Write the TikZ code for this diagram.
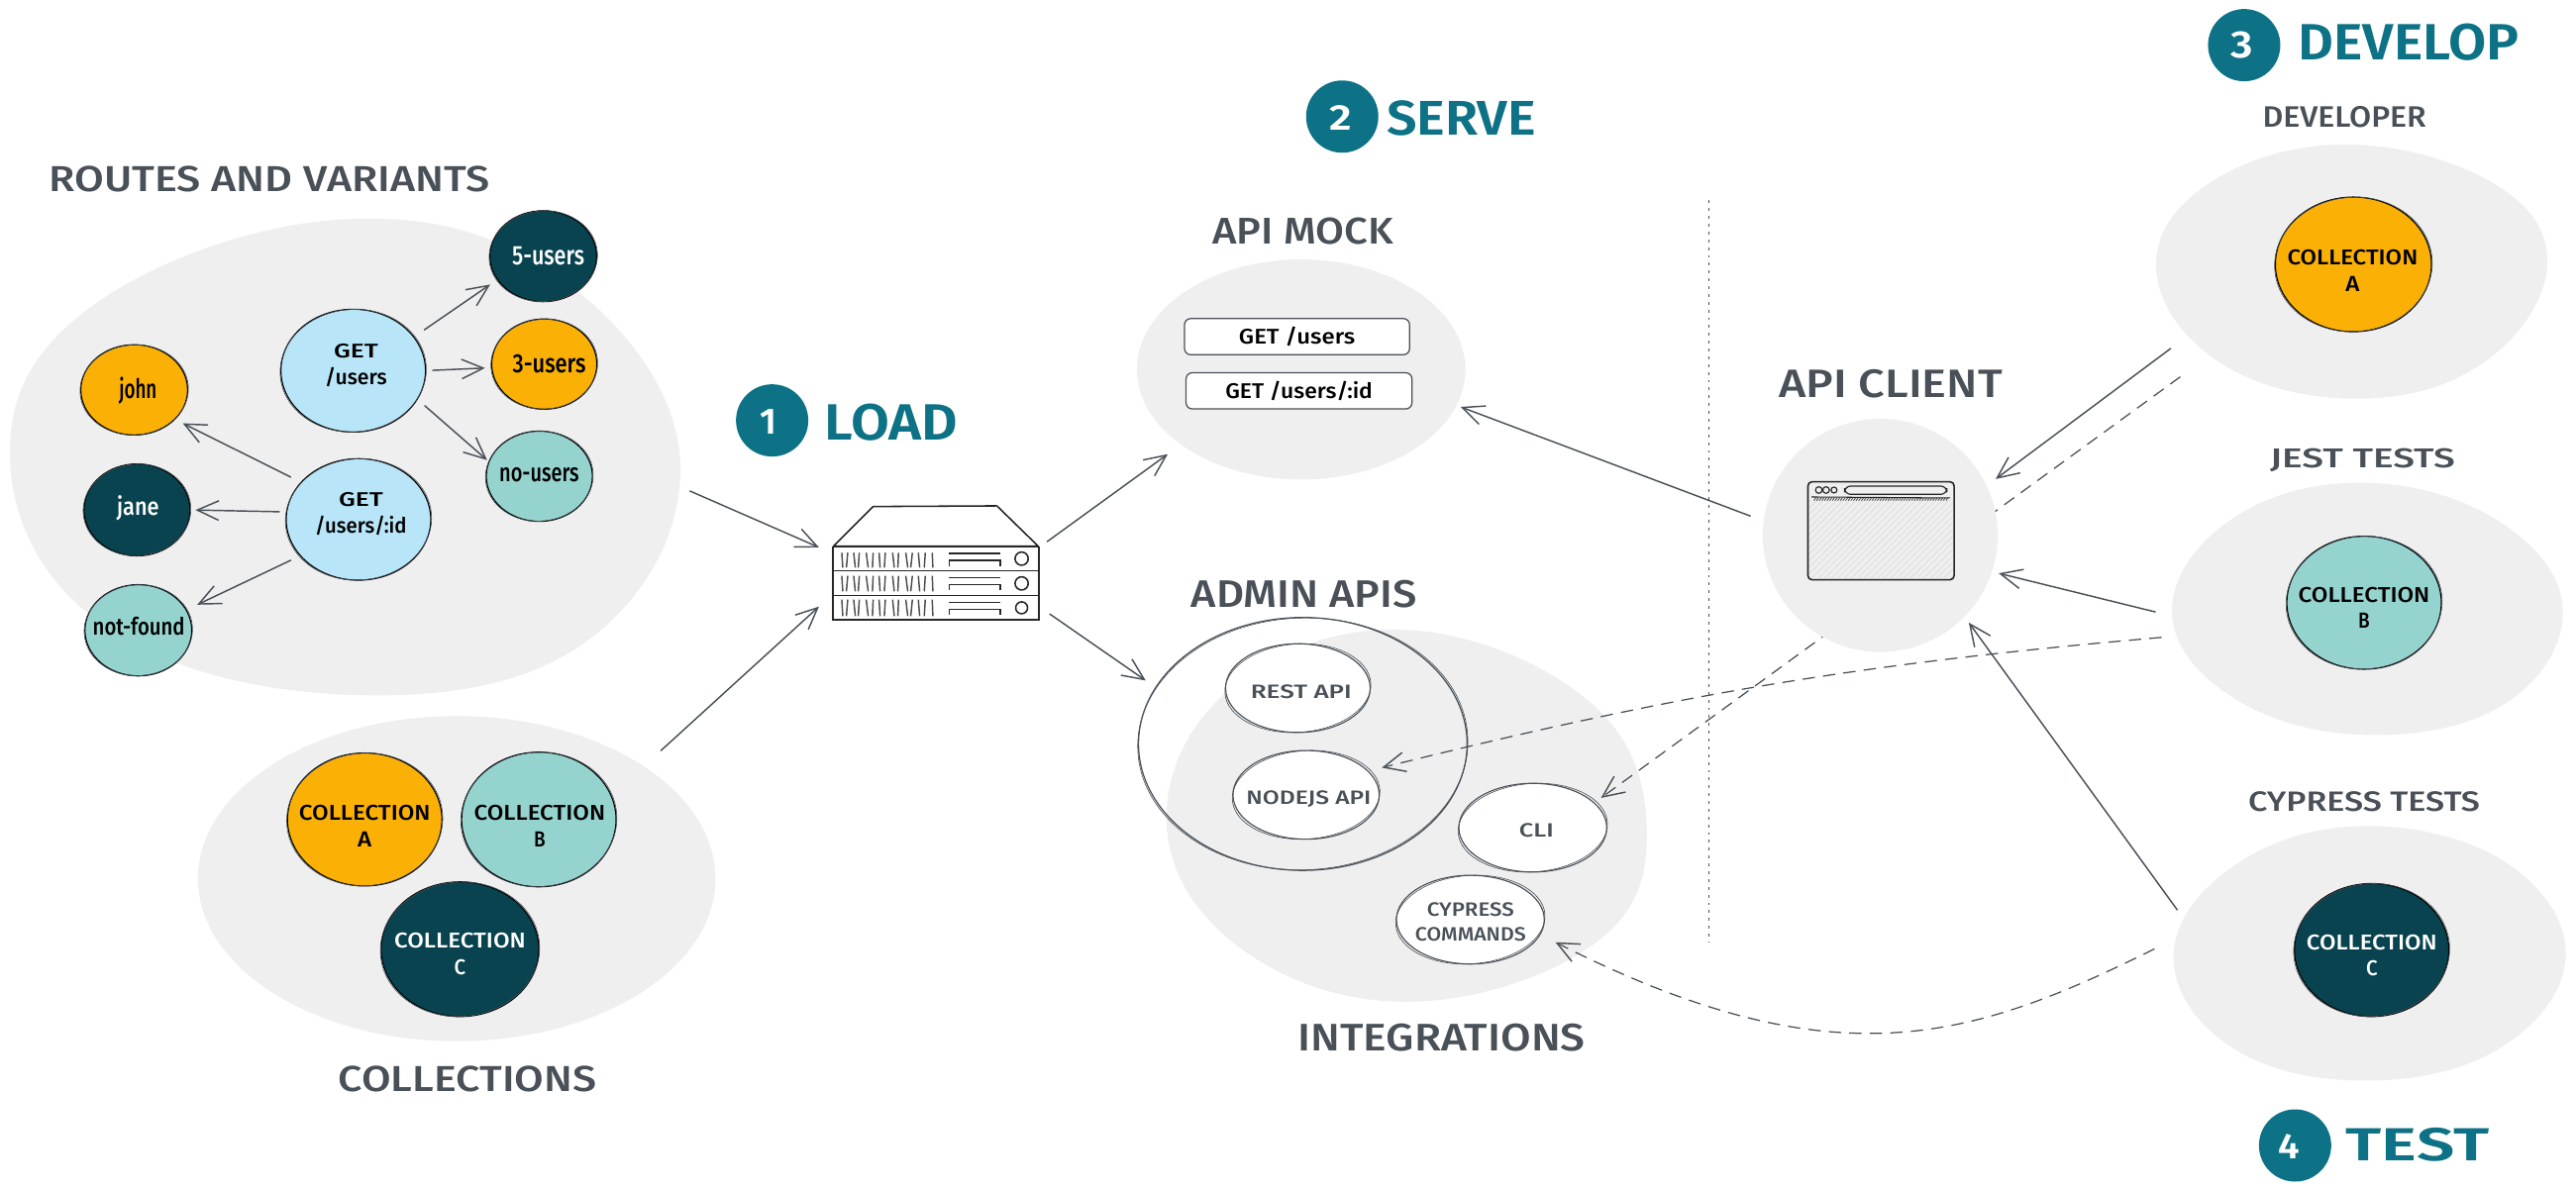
\documentclass[tikz,border=0pt]{standalone}
\usepackage{graphicx}
\usepackage{fontspec}
\setmainfont{Fira Sans Medium}
\newfontfamily\boldf{Fira Sans SemiBold}
\usetikzlibrary{arrows.meta,shapes.geometric}
\definecolor{cblob}{HTML}{EFEFEF}
\definecolor{corange}{HTML}{FBB006}
\definecolor{cmint}{HTML}{95D3CF}
\definecolor{cdeep}{HTML}{08434F}
\definecolor{csky}{HTML}{B8E6F8}
\definecolor{cteal}{HTML}{0D7285}
\definecolor{cgrey}{HTML}{495057}
\newlength\uu \setlength\uu{.8pt}
\newcommand\fw[2]{\resizebox{#1\uu}{!}{#2}}
\newcommand\fwh[3]{\resizebox{#1\uu}{#2\uu}{#3}}
\tikzset{
  x=.8pt,y=-.8pt,
  blobnode/.style={ellipse,fill=cblob,draw=none,inner sep=0pt,outer sep=0pt},
  blobshape/.style={ellipse,draw=none,inner sep=0pt,outer sep=0pt},
  ball/.style={ellipse,draw=black,line width=.55pt,inner sep=0pt,outer sep=0pt},
  whiteball/.style={ball,draw=cgrey,fill=white},
  orangeball/.style={ball,fill=corange},
  mintball/.style={ball,fill=cmint},
  deepball/.style={ball,fill=cdeep},
  skyball/.style={ball,fill=csky},
  tealball/.style={ellipse,fill=cteal,draw=none,inner sep=0pt,outer sep=0pt},
  txt/.style={inner sep=0pt,outer sep=0pt,align=center},
  labelgrey/.style={txt,text=cgrey},
  labelteal/.style={txt,text=cteal,font=\boldf},
  arr/.style={draw=cgrey,line width=.7pt,-{Straight Barb[length=10.5pt,width=9.5pt,line width=.7pt]}},
  dashedarr/.style={arr,dashed,dash pattern=on 6pt off 4pt,line width=.6pt},
  roughline/.style={line width=.3pt},
  sketch/.style={draw=black!85,line width=.75pt},
  boxnode/.style={rectangle,rounded corners=3pt,draw=cgrey,fill=white,line width=.6pt,inner sep=0pt,outer sep=0pt},
}
\newcommand\blobb[5]{\node[blobnode,minimum width={2*#4*\uu},minimum height={2*#5*\uu}] (#1) at (#2,#3) {};}
\newcommand\blobp[6]{\fill[cblob] plot[smooth cycle,tension=.68] coordinates {#6};
  \node[blobshape,minimum width={2*#4*\uu},minimum height={2*#5*\uu}] (#1) at (#2,#3) {};}
\newcommand\ballb[6]{\node[#6,minimum width={2*#4*\uu},minimum height={2*#5*\uu}] (#1) at (#2,#3) {};
  \draw[roughline,draw=cgrey] (#2,#3) circle[x radius=#4+.5,y radius=#5-.1,rotate=4];}
\newcommand\tealb[3]{\node[tealball,minimum width={2*22*\uu},minimum height={2*22*\uu}] (#1) at (#2,#3) {};}
\begin{document}
\begin{tikzpicture}
\useasboundingbox (0,0) rectangle (1568,725.2);
% background blobs
\blobp{routes}{210}{278}{204}{145}{(6,278) (58,185) (210,133.5) (342,170) (414,280) (355,392) (210,423) (62,380)}
\blobb{collections}{278}{535}{157.5}{99}
\blobb{apimock}{792}{225}{100}{67}
\blobp{integrations}{856}{497}{146}{113}{(710,497) (753,416) (856,383.5) (966,426) (1002.4,504) (970,575) (856,610) (752,575)}
\blobp{dev}{1431}{165}{119}{78}{(1312.4,163) (1346,110.7) (1430,88) (1520,113) (1550.3,163.8) (1510,222) (1432,242.7) (1350,220)}
\blobp{jest}{1441}{371}{119}{77}{(1322,371) (1360,315) (1440,294) (1522,318) (1560,372) (1524,429) (1439,447.5) (1358,424)}
\blobp{cyp}{1442}{580}{119}{77}{(1323,582) (1360,527) (1439,503) (1525,525) (1561.7,582) (1522,638) (1439,658) (1358,637.5)}
% routes and variants
\ballb{fiveusers}{330.7}{156}{32.5}{27.7}{deepball}
\ballb{threeusers}{331.3}{221.7}{32}{27.5}{orangeball}
\ballb{nousers}{328.3}{290}{32.3}{27.5}{mintball}
\ballb{gusers}{215}{225.7}{44}{37.4}{skyball}
\ballb{gid}{218.2}{316.3}{44}{37}{skyball}
\ballb{john}{81.7}{237.4}{32.5}{27.5}{orangeball}
\ballb{jane}{83.4}{310.5}{32.3}{28}{deepball}
\ballb{notfound}{84.2}{383.8}{32.5}{27.8}{mintball}
\node[txt,text=white] (t5) at (333.7,155.9) {\fwh{44}{11}{5-users}};
\node[txt] (t3) at (334.3,221.5) {\fwh{44.5}{11}{3-users}};
\node[txt] (tno) at (328.2,289) {\fwh{48.5}{8.5}{no-users}};
\node[txt] (tgu) at (216.7,222.3) {\fwh{27}{8.5}{GET}\\[1pt]\fwh{37.7}{10.5}{/users}};
\node[txt] (tgi) at (219.7,313.2) {\fwh{27}{8.5}{GET}\\[1pt]\fwh{55.7}{10.5}{/users/:id}};
\node[txt] (tjohn) at (84,238) {\fwh{23}{13}{john}};
\node[txt,text=white] (tjane) at (84,309.4) {\fwh{25.6}{12}{jane}};
\node[txt] (tnf) at (84.5,381.5) {\fwh{56}{11}{not-found}};
% collections
\ballb{colA}{222}{499}{47}{40.5}{orangeball}
\ballb{colB}{328}{499}{47}{41}{mintball}
\ballb{colC}{280}{578}{48}{41}{deepball}
\node[txt] (tcA) at (222,503) {\fwh{80}{9.2}{COLLECTION}\\[.8pt]\fwh{8.5}{9.2}{A}};
\node[txt] (tcB) at (328.5,503) {\fwh{80}{9.2}{COLLECTION}\\[.8pt]\fwh{7}{9.2}{B}};
\node[txt,text=white] (tcC) at (280,581) {\fwh{80}{9.2}{COLLECTION}\\[.8pt]\fwh{7}{9.2}{C}};
% labels
\node[labelgrey] (lroutes) at (164,109) {\fwh{268}{15.5}{ROUTES AND VARIANTS}};
\node[labelgrey] (lcoll) at (284.5,657) {\fwh{157}{15.5}{COLLECTIONS}};
\node[labelgrey] (lmock) at (793,141) {\fwh{110}{16}{API MOCK}};
\node[labelgrey] (ladmin) at (793.7,362) {\fwh{137.3}{16.5}{ADMIN APIS}};
\node[labelgrey] (lint) at (877.5,632) {\fwh{175}{16.5}{INTEGRATIONS}};
\node[labelgrey] (lclient) at (1151,234) {\fwh{136}{17}{API CLIENT}};
\node[labelgrey] (ldev) at (1427,71) {\fwh{99.6}{12.7}{DEVELOPER}};
\node[labelgrey] (ljest) at (1438,280) {\fwh{112.5}{11.7}{JEST TESTS}};
\node[labelgrey] (lcyp) at (1439,488) {\fwh{141}{12}{CYPRESS TESTS}};
% step titles
\tealb{one}{470}{256}
\tealb{two}{817}{71}
\tealb{three}{1366}{27.5}
\tealb{four}{1397}{697.5}
\node[txt,text=white,font=\boldf] (n1) at (468,257) {\resizebox{!}{15\uu}{1}};
\node[txt,text=white,font=\boldf] (n2) at (816,71.9) {\fwh{13.6}{15}{2}};
\node[txt,text=white,font=\boldf] (n3) at (1364.7,27.6) {\fwh{13.5}{16}{3}};
\node[txt,text=white,font=\boldf] (n4) at (1393.6,698) {\fwh{13}{15}{4}};
\node[labelteal] (tload) at (542.5,257) {\fwh{81}{22}{LOAD}};
\node[labelteal] (tserve) at (889.5,72) {\fwh{91}{21}{SERVE}};
\node[labelteal] (tdevelop) at (1466,25.5) {\fwh{134.5}{22}{DEVELOP}};
\node[labelteal] (ttest) at (1471.5,697) {\fwh{87}{20}{TEST}};
% api mock boxes
\node[boxnode,minimum width={137*\uu},minimum height={22*\uu}] (box1) at (789.5,205) {\fwh{70.7}{10.5}{GET /users}};
\node[boxnode,minimum width={137.5*\uu},minimum height={22*\uu}] (box2) at (790.7,238) {\fwh{89.6}{10.5}{GET /users/:id}};
% admin and integrations
\node[ball,draw=cgrey,line width=.6pt,minimum width={200*\uu},minimum height={154*\uu}] (admin) at (793,453) {};
\draw[roughline,draw=cgrey] (793,453) circle[x radius=100.5,y radius=76.7,rotate=2];
\ballb{rest}{790}{419}{44}{27}{whiteball}
\ballb{nodejs}{795}{484}{44.5}{27}{whiteball}
\ballb{cli}{933}{504}{45}{27}{whiteball}
\ballb{cmds}{895}{560}{45}{27}{whiteball}
\node[txt,text=cgrey] (trest) at (792,421.3) {\fwh{61.5}{8.3}{REST API}};
\node[txt,text=cgrey] (tnode) at (796.6,486.8) {\fwh{76}{8.3}{NODEJS API}};
\node[txt,text=cgrey] (tcli) at (935.2,505.8) {\fwh{21}{8.3}{CLI}};
\node[txt,text=cgrey] (tcmd) at (895.1,561.4) {\fwh{53}{8.3}{CYPRESS}\\[.3pt]\fwh{67.3}{8.3}{COMMANDS}};
% right collections
\ballb{rA}{1432.5}{161}{47.5}{41}{orangeball}
\ballb{rB}{1439}{367}{47}{40.5}{mintball}
\ballb{rC}{1443.6}{578.5}{47}{40.5}{deepball}
\node[txt] (trA) at (1432,164.7) {\fwh{79.4}{9.2}{COLLECTION}\\[.8pt]\fwh{8.5}{9.2}{A}};
\node[txt] (trB) at (1439,370) {\fwh{80}{9.2}{COLLECTION}\\[.8pt]\fwh{7}{9.2}{B}};
\node[txt,text=white] (trC) at (1443.7,581.8) {\fwh{79.4}{9.2}{COLLECTION}\\[.8pt]\fwh{7}{9.2}{C}};
% dotted divider
\coordinate (divtop) at (1040.3,122);
\coordinate (divbot) at (1040.3,573.5);
\draw[draw=cgrey,line width=.45pt,dash pattern=on 1.4pt off 2.4pt] (divtop) -- (divbot);
% dashed developer to cli, passing behind the client blob
\draw[dashedarr,shorten <=20\uu,shorten >=5.2\uu] (dev.211.3) -- (cli.22.3);
\blobb{client}{1144.5}{326}{71.5}{71}
% dashed others
\draw[dashedarr,shorten <=9\uu,shorten >=8.8\uu] (jest.188.3) to[bend right=4.5] (nodejs.21.6);
\draw[dashedarr,shorten <=13.7\uu,shorten >=10.5\uu] (cyp.176.1) .. controls (1200,633) and (1117,660) .. (cmds.-12.2);
% rack
\node[draw=none,inner sep=0pt,outer sep=0pt,minimum width={125*\uu},minimum height={69*\uu}] (rack) at (569.5,342.5) {};
\begin{scope}[shift={(470.2,277.3)},x=.1607pt,y=-.1607pt]
  \fill[white] (185,275) -- (305,155) -- (680,152) -- (805,275) -- cycle;
  \draw[sketch,line join=round] (185,275) -- (305,155) -- (680,153) -- (805,275) -- cycle;
  \draw[sketch] (183,277) rectangle (807,350) (183,350) rectangle (807,425) (183,425) rectangle (807,498);
  \foreach \yt/\yb in {295/340,365/412,437/487}{
    \foreach \xa/\d in {210/3,228/-4,246/5,263/-3,284/6,305/-2,323/3,342/-3,364/5,382/-2,404/6,424/-5,442/4,463/-3,484/2}{
      \draw[draw=black!70,line width=.7pt] (\xa,\yt) -- (\xa+\d,\yb);
    }
  }
  \foreach \ya in {0,73,148}{
    \draw[sketch,line width=.6pt] (535,297+\ya) -- (690,297+\ya);
    \draw[sketch,line width=.6pt] (535,335+\ya) -- (535,318+\ya) -- (690,318+\ya) -- (690,335+\ya);
  }
  \draw[sketch] (755,313) circle[radius=20] (755,388) circle[radius=20] (755,462) circle[radius=18];
\end{scope}
% browser
\node[draw=none,inner sep=0pt,outer sep=0pt,minimum width={89.5*\uu},minimum height={60*\uu}] (browser) at (1144.7,323) {};
\begin{scope}[shift={(1060.9,253.2)},x=.1607pt,y=-.1607pt]
  \begin{scope}
    \clip (200,258) rectangle (636,492);
    \foreach \h in {-40,-20,...,680}{
      \draw[draw=black!12,line width=.5pt] (\h,500) -- (\h+250,250);
    }
  \end{scope}
  \foreach \h in {215,223,...,620}{
    \draw[draw=black!70,line width=.4pt] (\h,257) -- (\h+6,249);
  }
  \draw[sketch,rounded corners=2pt] (197,200) rectangle (640,497);
  \draw[sketch,line width=.5pt] (208,246) -- (628,249);
  \draw[sketch,line width=.55pt] (230,225) circle[radius=10] (252,225) circle[radius=10] (276,225) circle[radius=9];
  \draw[sketch,line width=.55pt,rounded corners=3pt] (308,213) rectangle (618,238);
\end{scope}
% solid connectors
\draw[arr,shorten <=7.6\uu,shorten >=5.4\uu] (gusers.29.4) -- (fiveusers.207.6);
\draw[arr,shorten <=4.2\uu,shorten >=4.2\uu] (gusers.0) -- (threeusers.184);
\draw[arr,shorten <=5.9\uu,shorten >=1.6\uu] (gusers.-24.8) -- (nousers.164.4);
\draw[arr,shorten <=7\uu,shorten >=5.5\uu] (gid.147.9) -- (john.-36.1);
\draw[arr,shorten <=4.3\uu,shorten >=3.3\uu] (gid.174.9) -- (jane.0);
\draw[arr,shorten <=6.3\uu,shorten >=7.5\uu] (gid.212.1) -- (notfound.23);
\draw[arr,shorten <=8\uu,shorten >=9.3\uu] (routes.-5.2) -- (rack.175.6);
\draw[arr,shorten <=14\uu,shorten >=11.5\uu] (collections.31.8) -- (rack.197.5);
\draw[arr,shorten <=6.5\uu,shorten >=10\uu] (rack.8.7) -- (apimock.212.5);
\draw[arr,shorten <=8.3\uu,shorten >=7.5\uu] (rack.-23.5) -- (admin.159.3);
\draw[arr,shorten <=8.5\uu,shorten >=2.7\uu] (client.173.5) -- (apimock.-13.2);
\draw[arr,shorten <=10.4\uu,shorten >=6.9\uu] (dev.202.7) -- (client.25.9);
\draw[arr,shorten <=10.4\uu,shorten >=4.3\uu] (jest.182) -- (client.-18.1);
\draw[arr,shorten <=4.5\uu,shorten >=4.5\uu] (cyp.169) -- (client.-44.2);
\end{tikzpicture}
\end{document}
